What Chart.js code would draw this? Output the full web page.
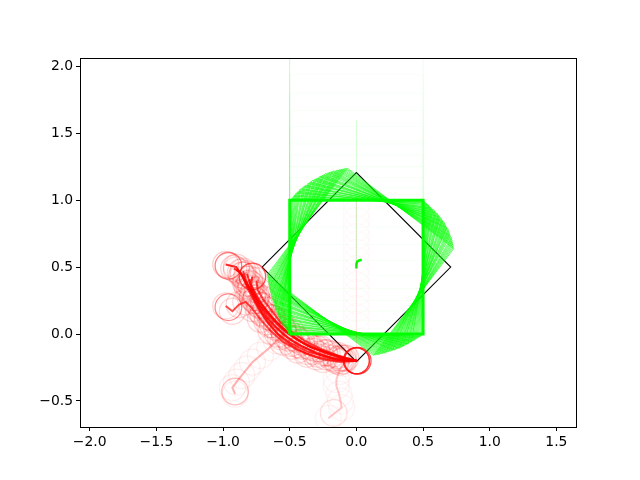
<!DOCTYPE html>
<html>
<head>
<meta charset="utf-8">
<script src="https://cdn.jsdelivr.net/npm/chart.js@4.4.1/dist/chart.umd.min.js"></script>
<style>
  html, body { margin: 0; padding: 0; background: #fff; }
  canvas { display: block; }
</style>
</head>
<body>
<canvas id="c" width="640" height="480" style="width:640px;height:480px"></canvas>
<script>
// axis ranges + ticks
const X_RANGE = [-2.073, 1.647];
const Y_RANGE = [-0.695, 2.063];
const X_TICKS = [-2.0, -1.5, -1.0, -0.5, 0.0, 0.5, 1.0, 1.5];
const Y_TICKS = [-0.5, 0.0, 0.5, 1.0, 1.5, 2.0];

// box: side 1, resting pose centre (0, 0.5)
const SIDE = 1.0;
const TARGET = { cx: 0, cy: 0.5, deg: 45 };          // black outline
const FALL_BOTTOMS = [0.04, 0.1, 0.17, 0.25, 0.34, 0.44, 0.55, 0.67, 0.8, 0.94, 1.09, 1.25, 1.42];
const ROT_DEG = [0,1,2,3,4,5,6,7,8,9,10,11,12,13,14,15,16,17,18,19,20,21,22,23,24,25,26,27,28,29,30,31,32,33,34,35,36,37];
const ROT_CX = [0,0,0,0,0,0,0,0,0,0,0.005,0.005,0.005,0.01,0.01,0.01,0.01,0.015,0.015,0.015,0.02,0.02,0.02,0.02,0.02,0.025,0.025,0.025,0.025,0.025,0.03,0.03,0.03,0.03,0.03,0.03,0.03,0.03];
const ROT_CY = [0.5,0.5,0.5,0.505,0.505,0.51,0.51,0.51,0.515,0.515,0.52,0.52,0.52,0.525,0.525,0.525,0.53,0.53,0.53,0.53,0.535,0.535,0.535,0.535,0.54,0.54,0.54,0.54,0.54,0.54,0.54,0.54,0.54,0.54,0.54,0.54,0.54,0.54];

// box centre trace
const BOX_PATH_X = [0, 0, 0.005, 0.02, 0.04];
const BOX_PATH_Y = [0.49, 0.52, 0.54, 0.55, 0.555];
const BOX_FALL_X = [0, 0];
const BOX_FALL_Y = [1.6, 0.5];

// ball: falling column inside the box
const BALL_FALL_Y = [0.97, 0.91, 0.85, 0.79, 0.73, 0.67, 0.61, 0.55, 0.49, 0.43, 0.37, 0.31, 0.25, 0.19, 0.13, 0.07];
const BALL_LINE_Y = [1.0, -0.2];

// ball trails (x, y, opacity)
const TRAILS = [
  { x: [-0.98,-0.9,-0.86,-0.81,-0.75,-0.68,-0.6,-0.51,-0.41,-0.3,-0.18,-0.08,0.0], y: [0.52,0.5,0.44,0.36,0.27,0.18,0.09,0.01,-0.06,-0.11,-0.15,-0.18,-0.2], a: 0.85 },
  { x: [-0.92,-0.87,-0.83,-0.78,-0.72,-0.64,-0.55,-0.45,-0.34,-0.22,-0.1,0.0], y: [0.49,0.46,0.38,0.3,0.21,0.12,0.03,-0.04,-0.1,-0.14,-0.18,-0.2], a: 0.8 },
  { x: [-0.78,-0.79,-0.75,-0.7,-0.63,-0.55,-0.46,-0.36,-0.24,-0.12,0.0], y: [0.43,0.37,0.29,0.21,0.12,0.04,-0.03,-0.09,-0.14,-0.18,-0.2], a: 0.8 },
  { x: [-0.82,-0.8,-0.77,-0.73,-0.67,-0.6,-0.51,-0.41,-0.29,-0.15,0.0], y: [0.45,0.38,0.31,0.22,0.13,0.05,-0.03,-0.09,-0.15,-0.19,-0.2], a: 0.8 },
  { x: [-0.85,-0.83,-0.8,-0.76,-0.7,-0.63,-0.54,-0.44,-0.32,-0.18,0.0], y: [0.47,0.41,0.33,0.25,0.15,0.07,-0.01,-0.08,-0.13,-0.18,-0.2], a: 0.75 },
  { x: [-0.75,-0.74,-0.7,-0.64,-0.57,-0.49,-0.39,-0.27,-0.14,0.0], y: [0.4,0.33,0.26,0.18,0.09,0.02,-0.05,-0.11,-0.16,-0.2], a: 0.75 },
  { x: [-0.9,-0.85,-0.82,-0.78,-0.73,-0.67,-0.59,-0.49,-0.37,-0.23,-0.1,0.0], y: [0.48,0.44,0.35,0.27,0.18,0.09,0.0,-0.07,-0.13,-0.17,-0.2,-0.2], a: 0.75 },
  { x: [-0.8,-0.79,-0.76,-0.71,-0.65,-0.57,-0.48,-0.37,-0.25,-0.12,0.0], y: [0.41,0.34,0.25,0.16,0.07,-0.02,-0.09,-0.15,-0.19,-0.21,-0.2], a: 0.7 },
  { x: [-0.98,-0.93,-0.88,-0.83,-0.78,-0.72,-0.64,-0.55,-0.44,-0.3,-0.15,0.0], y: [0.21,0.17,0.22,0.24,0.19,0.11,0.02,-0.06,-0.12,-0.17,-0.2,-0.2], a: 0.7 },
  { x: [-0.91,-0.93,-0.9,-0.86,-0.82,-0.78,-0.72,-0.65,-0.6,-0.54], y: [-0.45,-0.40,-0.36,-0.31,-0.26,-0.21,-0.16,-0.10,-0.05,0.0], a: 0.3 },
  { x: [-0.21,-0.11,-0.12,-0.13,-0.15,-0.15,-0.13,-0.1,0.0], y: [-0.63,-0.55,-0.5,-0.45,-0.39,-0.34,-0.28,-0.22,-0.2], a: 0.22 },
];
// ball end poses: x, y, opacity
const BALL_END_X = [-0.96, -0.96, -0.78, 0.01, -0.91, -0.17];
const BALL_END_Y = [0.51, 0.2, 0.43, -0.2, -0.43, -0.59];
const BALL_END_A = [0.5, 0.45, 0.6, 0.7, 0.25, 0.12];

const LIME = (a) => `rgba(0,255,0,${a})`;
const RED = (a) => `rgba(255,0,0,${a})`;

function square(cx, cy, deg, side) {
  const t = deg * Math.PI / 180, h = side / 2;
  const c = Math.cos(t), s = Math.sin(t);
  return [[-h, -h], [h, -h], [h, h], [-h, h], [-h, -h]].map(([dx, dy]) =>
    ({ x: cx + dx * c + dy * s, y: cy - dx * s + dy * c }));
}
const pts = (xs, ys) => xs.map((x, i) => ({ x, y: ys[i] }));
const line = (data, color, width) => ({ data, showLine: true, borderColor: color, borderWidth: width,
  pointRadius: 0, fill: false, tension: 0 });
const rings = (data, color, r) => ({ data, showLine: false, pointRadius: r, pointBorderColor: color,
  pointBackgroundColor: "rgba(0,0,0,0)", pointBorderWidth: 1.3 });

const datasets = [];
// falling box (faint)
FALL_BOTTOMS.forEach((b) => datasets.push(line(square(0, b + SIDE / 2, 0, SIDE), LIME(0.035), 1)));
datasets.push(line(pts(BOX_FALL_X, BOX_FALL_Y), LIME(0.15), 1.2));
// ball falling column (faint)
datasets.push(rings(BALL_FALL_Y.map((y) => ({ x: 0, y })), RED(0.025), 13));
datasets.push(line(pts([0, 0], BALL_LINE_Y), RED(0.1), 1.2));
// tipping box
ROT_DEG.forEach((d, i) => datasets.push(line(square(ROT_CX[i], ROT_CY[i], d, SIDE), LIME(d === 0 ? 1 : 0.6), d === 0 ? 3 : 1)));
datasets.push(line(pts(BOX_PATH_X, BOX_PATH_Y), LIME(1), 2.5));
// ball trails and rings
TRAILS.forEach((t) => datasets.push(rings(pts(t.x, t.y), RED(t.a * 0.22), 13)));
TRAILS.forEach((t) => datasets.push(line(pts(t.x, t.y), RED(t.a), 2)));
BALL_END_X.forEach((x, i) => datasets.push(rings([{ x, y: BALL_END_Y[i] }], RED(BALL_END_A[i]), 13.3)));
// target pose
datasets.push(line(square(TARGET.cx, TARGET.cy, TARGET.deg, SIDE), "#000", 1.1));

const fmt = (v) => (v < 0 ? "\u2212" : "") + Math.abs(v).toFixed(1);
const FONT = { family: "'DejaVu Sans', sans-serif", size: 13.9 };

const frame = {
  id: "frame",
  afterDraw(chart) {
    const { ctx, chartArea: a } = chart;
    ctx.save();
    ctx.strokeStyle = "#000";
    ctx.lineWidth = 1;
    ctx.strokeRect(Math.round(a.left) + 0.5, Math.round(a.top) + 0.5,
      Math.round(a.right - a.left), Math.round(a.bottom - a.top));
    ctx.restore();
  },
};

const axis = (range, ticks, fit) => ({
  type: "linear", min: range[0], max: range[1],
  afterBuildTicks: (s) => { s.ticks = ticks.map((value) => ({ value })); },
  afterFit: fit,
  grid: { drawOnChartArea: false, drawTicks: true, tickLength: 4, color: "#000", tickWidth: 1 },
  border: { display: false },
  ticks: { color: "#000", font: FONT, padding: 3, maxRotation: 0, autoSkip: false, callback: fmt },
});

new Chart(document.getElementById("c"), {
  type: "scatter",
  data: { datasets },
  options: {
    responsive: false, animation: false,
    layout: { padding: { top: 58, right: 64, left: 0, bottom: 0 } },
    plugins: { legend: { display: false }, tooltip: { enabled: false } },
    scales: {
      x: axis(X_RANGE, X_TICKS, (s) => { s.height = 53; }),
      y: axis(Y_RANGE, Y_TICKS, (s) => { s.width = 80; }),
    },
  },
  plugins: [frame],
});
</script>
</body>
</html>
